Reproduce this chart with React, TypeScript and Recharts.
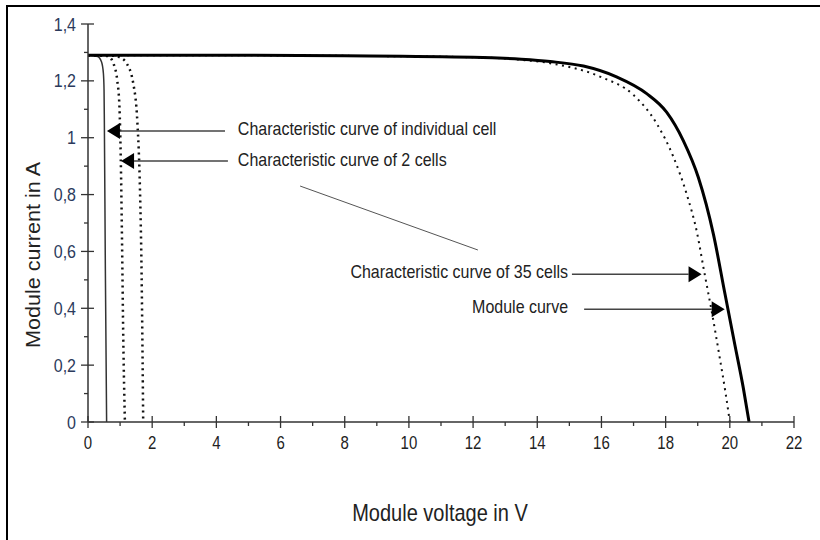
import {
  LineChart,
  Line,
  XAxis,
  YAxis,
  ReferenceLine,
  ReferenceDot,
} from 'recharts';

// voltage (V) / current (A)
const moduleV = [0, 4, 8, 12, 13.5, 14.4, 15.44, 16.47, 17.41, 18.03, 18.55, 19.02, 19.49, 19.85, 20.16, 20.42, 20.6];
const moduleI = [1.29, 1.29, 1.288, 1.283, 1.276, 1.268, 1.252, 1.214, 1.155, 1.09, 0.99, 0.86, 0.66, 0.45, 0.27, 0.12, 0];

const cells35V = [0, 4, 8, 12, 13.5, 14.4, 15.95, 17.0, 17.72, 18.24, 18.66, 18.97, 19.2, 19.45, 19.68, 19.87, 20.0];
const cells35I = [1.29, 1.29, 1.288, 1.283, 1.274, 1.262, 1.215, 1.15, 1.05, 0.933, 0.8, 0.67, 0.53, 0.38, 0.23, 0.1, 0];

const cell1V = [0, 0.3, 0.42, 0.48, 0.5, 0.51, 0.54, 0.58];
const cell1I = [1.29, 1.286, 1.267, 1.226, 1.168, 1.05, 0.55, 0];

const cells2V = [0, 0.5, 0.68, 0.79, 0.91, 0.98, 1.02, 1.06, 1.1, 1.15];
const cells2I = [1.29, 1.289, 1.282, 1.262, 1.203, 1.109, 0.933, 0.64, 0.288, 0];

const cells3V = [0, 0.8, 1.0, 1.2, 1.41, 1.54, 1.62, 1.67, 1.7, 1.72];
const cells3I = [1.29, 1.288, 1.282, 1.262, 1.191, 1.051, 0.816, 0.523, 0.23, 0];

const xTicks = [0, 1, 2, 3, 4, 5, 6, 7, 8, 9, 10, 11, 12, 13, 14, 15, 16, 17, 18, 19, 20, 21, 22];
const yTicks = [0, 0.1, 0.2, 0.3, 0.4, 0.5, 0.6, 0.7, 0.8, 0.9, 1, 1.1, 1.2, 1.3, 1.4];

// annotations: text, text anchor point, arrow start, arrow tip
const noteTexts = [
  'Characteristic curve of individual cell',
  'Characteristic curve of 2 cells',
  'Characteristic curve of 35 cells',
  'Module curve',
];
const noteAt = [[4.67, 1.034], [4.67, 0.922], [14.96, 0.528], [14.96, 0.405]];
const arrowFrom = [[4.27, 1.024], [4.36, 0.918], [15.08, 0.52], [15.46, 0.397]];
const arrowTo = [[0.59, 1.024], [1.03, 0.918], [19.12, 0.52], [19.84, 0.397]];
const leader = [[6.61, 0.83], [12.15, 0.605]];

const zip = (vs: number[], is: number[]) => vs.map((v, k) => ({ v, i: is[k] }));

const font = '"Liberation Sans", Arial, sans-serif';

// the source image is stretched vertically, so text is drawn 1.2x taller
const Tall = ({ x, y, anchor, size, fill, children }: any) => (
  <text
    transform={`translate(${x},${y}) scale(1,1.2)`}
    textAnchor={anchor}
    dominantBaseline='central'
    fontSize={size}
    fontFamily={font}
    fill={fill}
  >
    {children}
  </text>
);

const XTick = (props: any) => {
  const { x, y, payload } = props;
  const v = payload.value;
  const major = v % 2 === 0;
  return (
    <g>
      <line x1={x} x2={x} y1={major ? y - 6 : y} y2={major ? y + 6 : y + 4} stroke='#333' strokeWidth={1.3} />
      {major && (
        <Tall x={x} y={y + 21} anchor='middle' size={15} fill='#222'>
          {v}
        </Tall>
      )}
    </g>
  );
};

const YTick = (props: any) => {
  const { x, y, payload } = props;
  const v = payload.value;
  const major = Math.round(v * 10) % 2 === 0;
  const label = Number.isInteger(v) ? String(v) : v.toFixed(1).replace('.', ',');
  return (
    <g>
      <line x1={major ? x - 7 : x - 4} x2={major ? x + 6 : x} y1={y} y2={y} stroke='#333' strokeWidth={1.3} />
      {major && (
        <Tall x={x - 12} y={y} anchor='end' size={16} fill='#2b3a5c'>
          {label}
        </Tall>
      )}
    </g>
  );
};

const Arrow = (props: any) => {
  const { x1, y1, x2, y2 } = props;
  const dir = x2 > x1 ? 1 : -1;
  const len = 13;
  const hw = 8;
  return (
    <g>
      <line x1={x1} y1={y1} x2={x2 - dir * len} y2={y2} stroke='#444' strokeWidth={1.5} />
      <polygon points={`${x2},${y2} ${x2 - dir * len},${y2 - hw} ${x2 - dir * len},${y2 + hw}`} fill='#000' />
    </g>
  );
};

const noteShape = (k: number) => (p: any) => (
  <Tall x={p.cx} y={p.cy} anchor={k < 2 ? 'start' : 'end'} size={16} fill='#222'>
    {noteTexts[k]}
  </Tall>
);

export default function App() {
  return (
    <div style={{ position: 'absolute', left: 0, top: 0, width: 820, height: 540, background: '#fff', overflow: 'hidden' }}>
      <div style={{ position: 'absolute', left: 6, top: 5, width: 830, height: 560, borderTop: '2px solid #000', borderLeft: '2px solid #000' }} />
      <div style={{ position: 'absolute', left: 0, top: 0 }}>
        <LineChart width={820} height={540} margin={{ top: 24, right: 26, left: 28, bottom: 88 }}>
          <XAxis
            type='number'
            dataKey='v'
            domain={[0, 22]}
            ticks={xTicks}
            interval={0}
            height={30}
            tickSize={0}
            tickMargin={0}
            tickLine={false}
            tick={<XTick />}
            axisLine={{ stroke: '#333', strokeWidth: 1.5 }}
          />
          <YAxis
            type='number'
            dataKey='i'
            domain={[0, 1.4]}
            ticks={yTicks}
            interval={0}
            width={60}
            tickSize={0}
            tickMargin={0}
            tickLine={false}
            tick={<YTick />}
            axisLine={{ stroke: '#333', strokeWidth: 1.5 }}
          />
          <Line data={zip(cell1V, cell1I)} dataKey='i' type='monotone' stroke='#333' strokeWidth={1.5} dot={false} isAnimationActive={false} />
          <Line data={zip(cells2V, cells2I)} dataKey='i' type='monotone' stroke='#111' strokeWidth={2.5} strokeDasharray='2 4' dot={false} isAnimationActive={false} />
          <Line data={zip(cells3V, cells3I)} dataKey='i' type='monotone' stroke='#111' strokeWidth={2.5} strokeDasharray='2 4' dot={false} isAnimationActive={false} />
          <Line data={zip(cells35V, cells35I)} dataKey='i' type='monotone' stroke='#111' strokeWidth={2} strokeDasharray='2 4.5' dot={false} isAnimationActive={false} />
          <Line data={zip(moduleV, moduleI)} dataKey='i' type='monotone' stroke='#000' strokeWidth={3} dot={false} isAnimationActive={false} />
          <ReferenceLine
            segment={[{ x: leader[0][0], y: leader[0][1] }, { x: leader[1][0], y: leader[1][1] }]}
            stroke='#555'
            strokeWidth={1}
          />
          {arrowFrom.map((a, k) => (
            <ReferenceLine
              key={'a' + k}
              segment={[{ x: a[0], y: a[1] }, { x: arrowTo[k][0], y: arrowTo[k][1] }]}
              shape={<Arrow />}
            />
          ))}
          {noteAt.map((n, k) => (
            <ReferenceDot key={'n' + k} x={n[0]} y={n[1]} r={0} shape={noteShape(k)} />
          ))}
        </LineChart>
      </div>
      <div
        style={{
          position: 'absolute',
          left: 33,
          top: 255,
          transform: 'translate(-50%, -50%) rotate(-90deg) scaleX(1.08)',
          whiteSpace: 'nowrap',
          fontFamily: font,
          fontSize: 20,
          color: '#222',
        }}
      >
        Module current in A
      </div>
      <div
        style={{
          position: 'absolute',
          left: 440,
          top: 513,
          transform: 'translate(-50%, -50%) scaleY(1.2)',
          whiteSpace: 'nowrap',
          fontFamily: font,
          fontSize: 20,
          color: '#222',
        }}
      >
        Module voltage in V
      </div>
    </div>
  );
}
